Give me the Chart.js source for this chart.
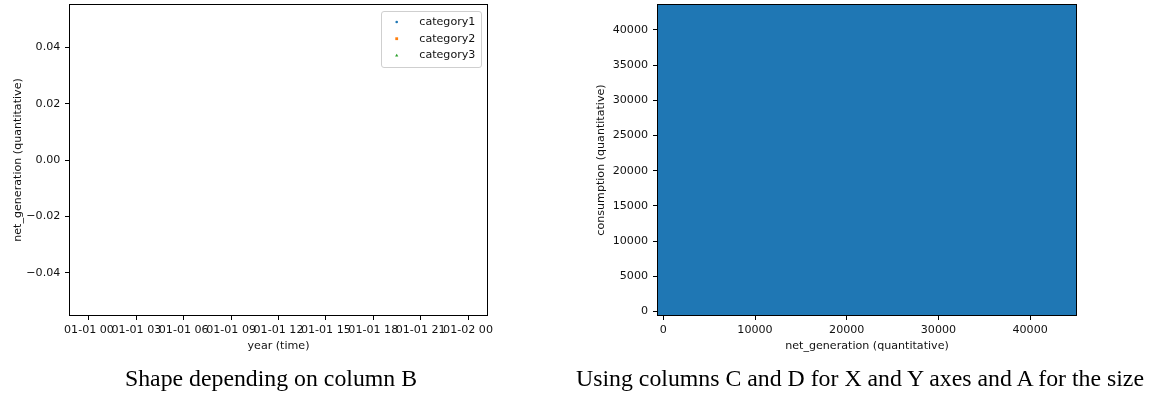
<!DOCTYPE html>
<html>
<head>
<meta charset="utf-8">
<script src="https://cdn.jsdelivr.net/npm/chart.js@4/dist/chart.umd.min.js"></script>
<style>
html, body { margin: 0; padding: 0; background: #fff; }
#wrap { position: relative; width: 1151px; height: 394px; overflow: hidden; background: #fff; }
canvas { position: absolute; top: 0; }
#c1 { left: 0; }
#c2 { left: 560px; }
.cap { position: absolute; font-family: "Liberation Serif", "Times New Roman", serif; font-size: 23.8px; line-height: 1; color: #000; white-space: nowrap; transform: translate(-50%, -50%); }
</style>
</head>
<body>
<div id="wrap">
  <canvas id="c1" width="560" height="394"></canvas>
  <canvas id="c2" width="591" height="394"></canvas>
  <div class="cap" style="left:271px; top:379px;">Shape depending on column B</div>
  <div class="cap" style="left:860px; top:379px;">Using columns C and D for X and Y axes and A for the size</div>
</div>
<script>
// ---------- data (left chart: time scatter, no points) ----------
const categories = ['category1', 'category2', 'category3'];
const category1 = [];
const category2 = [];
const category3 = [];
const hourTicks = [0, 3, 6, 9, 12, 15, 18, 21, 24];
const hourTickLabels = ['01-01 00', '01-01 03', '01-01 06', '01-01 09', '01-01 12', '01-01 15', '01-01 18', '01-01 21', '01-02 00'];
const leftYTicks = [-0.04, -0.02, 0, 0.02, 0.04];
const leftYTickLabels = ['\u22120.04', '\u22120.02', '0.00', '0.02', '0.04'];

// ---------- data (right chart: net_generation vs consumption) ----------
const netGeneration = [1494, 8200, 15600, 21900, 29400, 36100, 42928];
const consumption = [1492, 9800, 14300, 23700, 30100, 37200, 41548];
const rightXTicks = [0, 10000, 20000, 30000, 40000];
const rightYTicks = [0, 5000, 10000, 15000, 20000, 25000, 30000, 35000, 40000];

// ---------- styling ----------
const FONT = 'DejaVu Sans';
const FS = 11.1;
const TXT = '#111';
const colors = ['#1f77b4', '#ff7f0e', '#2ca02c'];
const shapes = ['circle', 'rect', 'triangle'];

const framePlugin = {
  id: 'frame',
  afterDraw(chart) {
    const a = chart.chartArea, ctx = chart.ctx;
    ctx.save();
    ctx.strokeStyle = '#000';
    ctx.lineWidth = 1;
    ctx.strokeRect(Math.round(a.left) - 0.5, Math.round(a.top) - 0.5, Math.round(a.right - a.left) + 1, Math.round(a.bottom - a.top) + 1);
    ctx.restore();
  }
};

const legendPlugin = {
  id: 'mplLegend',
  afterDraw(chart) {
    const a = chart.chartArea, ctx = chart.ctx;
    const w = 100, h = 56;
    const x0 = a.right - 6 - w, y0 = a.top + 6.3;
    ctx.save();
    ctx.beginPath();
    ctx.roundRect(Math.round(x0) + 0.5, Math.round(y0) + 0.5, w, h, 2.5);
    ctx.fillStyle = 'rgba(255,255,255,0.8)';
    ctx.fill();
    ctx.strokeStyle = '#cfcfcf';
    ctx.lineWidth = 1;
    ctx.stroke();
    chart.data.datasets.forEach((ds, i) => {
      const cy = y0 + 10.7 + i * 16.7;
      const mx = x0 + 15.7;
      ctx.fillStyle = ds.backgroundColor;
      if (ds.pointStyle === 'circle') {
        ctx.beginPath(); ctx.arc(mx, cy, 1.3, 0, Math.PI * 2); ctx.fill();
      } else if (ds.pointStyle === 'rect') {
        ctx.fillRect(mx - 1.4, cy - 1.4, 2.8, 2.8);
      } else {
        ctx.beginPath(); ctx.moveTo(mx, cy - 1.7); ctx.lineTo(mx + 1.6, cy + 1.2); ctx.lineTo(mx - 1.6, cy + 1.2); ctx.closePath(); ctx.fill();
      }
      ctx.fillStyle = TXT;
      ctx.font = FS + 'px "' + FONT + '"';
      ctx.textBaseline = 'middle';
      ctx.textAlign = 'left';
      ctx.fillText(ds.label, x0 + 38.3, cy);
    });
    ctx.restore();
  }
};

function fixedTicks(values) {
  return function (scale) { scale.ticks = values.map(v => ({ value: v })); };
}
function fitY(width) {
  return function (scale) { scale.width = width; scale.paddingTop = 0; scale.paddingBottom = 0; };
}
function fitX(height) {
  return function (scale) { scale.height = height; scale.paddingLeft = 0; scale.paddingRight = 0; };
}
function axisCommon(title, titlePad) {
  return {
    border: { display: false },
    grid: { display: true, drawOnChartArea: false, drawTicks: true, tickLength: 5, color: '#000', lineWidth: 1 },
    title: { display: true, text: title, color: TXT, font: { family: FONT, size: FS }, padding: { top: titlePad, bottom: titlePad } }
  };
}

Chart.defaults.font.family = FONT;
Chart.defaults.color = TXT;

// ---------- left chart ----------
const leftDatasets = [category1, category2, category3].map((d, i) => ({
  label: categories[i],
  data: d,
  backgroundColor: colors[i],
  borderColor: colors[i],
  pointStyle: shapes[i],
  pointRadius: 1.5
}));

new Chart(document.getElementById('c1'), {
  type: 'scatter',
  data: { datasets: leftDatasets },
  options: {
    responsive: false,
    animation: false,
    layout: { autoPadding: false, padding: { left: 0, top: 5, right: 560 - 487, bottom: 0 } },
    plugins: { legend: { display: false }, tooltip: { enabled: false } },
    scales: {
      x: Object.assign(axisCommon('year (time)', 41.6), {
        type: 'linear', min: -1.2, max: 25.2,
        afterBuildTicks: fixedTicks(hourTicks),
        afterFit: fitX(394 - 315),
        ticks: {
          autoSkip: false, maxRotation: 0, minRotation: 0, padding: 3,
          color: TXT, font: { family: FONT, size: FS },
          callback: (v) => { const k = hourTicks.indexOf(v); return k >= 0 ? hourTickLabels[k] : ''; }
        }
      }),
      y: Object.assign(axisCommon('net_generation (quantitative)', 11.3), {
        type: 'linear', min: -0.055, max: 0.055,
        afterBuildTicks: fixedTicks(leftYTicks),
        afterFit: fitY(70),
        ticks: {
          autoSkip: false, padding: 4.7,
          color: TXT, font: { family: FONT, size: FS },
          callback: (v) => { const k = leftYTicks.findIndex(t => Math.abs(t - v) < 1e-9); return k >= 0 ? leftYTickLabels[k] : ''; }
        }
      })
    }
  },
  plugins: [framePlugin, legendPlugin]
});

// ---------- right chart ----------
new Chart(document.getElementById('c2'), {
  type: 'scatter',
  data: {
    datasets: [{
      label: 'A',
      data: netGeneration.map((x, i) => ({ x: x, y: consumption[i] })),
      backgroundColor: '#1f77b4',
      borderColor: '#1f77b4',
      borderWidth: 0,
      pointRadius: 600,
      pointHoverRadius: 600,
      clip: 0
    }]
  },
  options: {
    responsive: false,
    animation: false,
    layout: { autoPadding: false, padding: { left: 0, top: 5, right: 591 - 516, bottom: 0 } },
    plugins: { legend: { display: false }, tooltip: { enabled: false } },
    scales: {
      x: Object.assign(axisCommon('net_generation (quantitative)', 41.6), {
        type: 'linear', min: -578, max: 45000,
        afterBuildTicks: fixedTicks(rightXTicks),
        afterFit: fitX(394 - 315),
        ticks: {
          autoSkip: false, maxRotation: 0, minRotation: 0, padding: 3,
          color: TXT, font: { family: FONT, size: FS },
          callback: (v) => String(v)
        }
      }),
      y: Object.assign(axisCommon('consumption (quantitative)', 34.3), {
        type: 'linear', min: -511, max: 43551,
        afterBuildTicks: fixedTicks(rightYTicks),
        afterFit: fitY(98),
        ticks: {
          autoSkip: false, padding: 5,
          color: TXT, font: { family: FONT, size: FS },
          callback: (v) => String(v)
        }
      })
    }
  },
  plugins: [framePlugin]
});
</script>
</body>
</html>
